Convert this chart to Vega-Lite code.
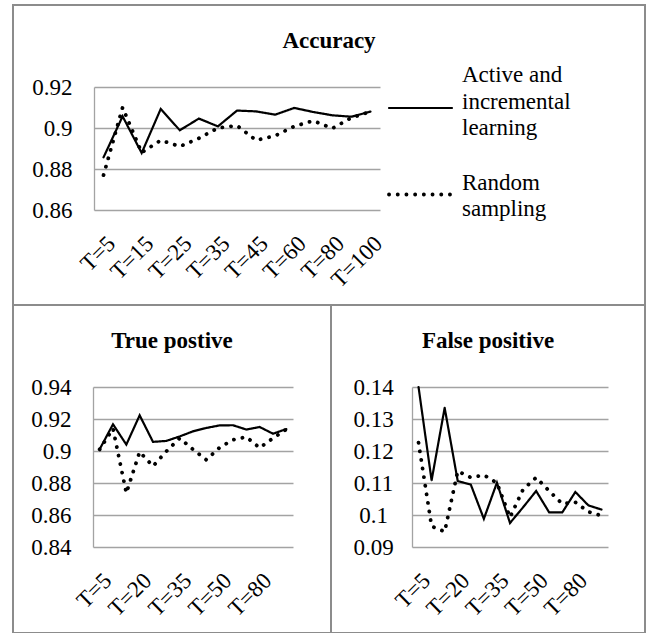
{
  "$schema": "https://vega.github.io/schema/vega-lite/v6.json",
  "padding": {"left": 12, "top": 4, "right": 4, "bottom": 1},
  "background": "white",
  "datasets": {
    "acc": [
      {"T": "T=5", "Series": "Active and incremental learning", "value": 0.8857},
      {"T": "T=10", "Series": "Active and incremental learning", "value": 0.9057},
      {"T": "T=15", "Series": "Active and incremental learning", "value": 0.8878},
      {"T": "T=20", "Series": "Active and incremental learning", "value": 0.9093},
      {"T": "T=25", "Series": "Active and incremental learning", "value": 0.8989},
      {"T": "T=30", "Series": "Active and incremental learning", "value": 0.9046},
      {"T": "T=35", "Series": "Active and incremental learning", "value": 0.9008},
      {"T": "T=40", "Series": "Active and incremental learning", "value": 0.9085},
      {"T": "T=45", "Series": "Active and incremental learning", "value": 0.9081},
      {"T": "T=50", "Series": "Active and incremental learning", "value": 0.9065},
      {"T": "T=60", "Series": "Active and incremental learning", "value": 0.9098},
      {"T": "T=70", "Series": "Active and incremental learning", "value": 0.9078},
      {"T": "T=80", "Series": "Active and incremental learning", "value": 0.9062},
      {"T": "T=90", "Series": "Active and incremental learning", "value": 0.9055},
      {"T": "T=100", "Series": "Active and incremental learning", "value": 0.908},
      {"T": "T=5", "Series": "Random sampling", "value": 0.877},
      {"T": "T=10", "Series": "Random sampling", "value": 0.910},
      {"T": "T=15", "Series": "Random sampling", "value": 0.888},
      {"T": "T=20", "Series": "Random sampling", "value": 0.894},
      {"T": "T=25", "Series": "Random sampling", "value": 0.891},
      {"T": "T=30", "Series": "Random sampling", "value": 0.895},
      {"T": "T=35", "Series": "Random sampling", "value": 0.900},
      {"T": "T=40", "Series": "Random sampling", "value": 0.9012},
      {"T": "T=45", "Series": "Random sampling", "value": 0.894},
      {"T": "T=50", "Series": "Random sampling", "value": 0.8962},
      {"T": "T=60", "Series": "Random sampling", "value": 0.9008},
      {"T": "T=70", "Series": "Random sampling", "value": 0.9035},
      {"T": "T=80", "Series": "Random sampling", "value": 0.8998},
      {"T": "T=90", "Series": "Random sampling", "value": 0.905},
      {"T": "T=100", "Series": "Random sampling", "value": 0.908}
    ],
    "tp": [
      {"T": "T=5", "Series": "Active and incremental learning", "value": 0.9011},
      {"T": "T=10", "Series": "Active and incremental learning", "value": 0.9167},
      {"T": "T=15", "Series": "Active and incremental learning", "value": 0.904},
      {"T": "T=20", "Series": "Active and incremental learning", "value": 0.9223},
      {"T": "T=25", "Series": "Active and incremental learning", "value": 0.9057},
      {"T": "T=30", "Series": "Active and incremental learning", "value": 0.9063},
      {"T": "T=35", "Series": "Active and incremental learning", "value": 0.9091},
      {"T": "T=40", "Series": "Active and incremental learning", "value": 0.9123},
      {"T": "T=45", "Series": "Active and incremental learning", "value": 0.9144},
      {"T": "T=50", "Series": "Active and incremental learning", "value": 0.916},
      {"T": "T=60", "Series": "Active and incremental learning", "value": 0.9161},
      {"T": "T=70", "Series": "Active and incremental learning", "value": 0.9134},
      {"T": "T=80", "Series": "Active and incremental learning", "value": 0.915},
      {"T": "T=90", "Series": "Active and incremental learning", "value": 0.9108},
      {"T": "T=100", "Series": "Active and incremental learning", "value": 0.9137},
      {"T": "T=5", "Series": "Random sampling", "value": 0.901},
      {"T": "T=10", "Series": "Random sampling", "value": 0.914},
      {"T": "T=15", "Series": "Random sampling", "value": 0.8737},
      {"T": "T=20", "Series": "Random sampling", "value": 0.8995},
      {"T": "T=25", "Series": "Random sampling", "value": 0.8905},
      {"T": "T=30", "Series": "Random sampling", "value": 0.8998},
      {"T": "T=35", "Series": "Random sampling", "value": 0.908},
      {"T": "T=40", "Series": "Random sampling", "value": 0.901},
      {"T": "T=45", "Series": "Random sampling", "value": 0.8945},
      {"T": "T=50", "Series": "Random sampling", "value": 0.9022},
      {"T": "T=60", "Series": "Random sampling", "value": 0.907},
      {"T": "T=70", "Series": "Random sampling", "value": 0.9088},
      {"T": "T=80", "Series": "Random sampling", "value": 0.902},
      {"T": "T=90", "Series": "Random sampling", "value": 0.908},
      {"T": "T=100", "Series": "Random sampling", "value": 0.9135}
    ],
    "fp": [
      {"T": "T=5", "Series": "Active and incremental learning", "value": 0.140},
      {"T": "T=10", "Series": "Active and incremental learning", "value": 0.1108},
      {"T": "T=15", "Series": "Active and incremental learning", "value": 0.1335},
      {"T": "T=20", "Series": "Active and incremental learning", "value": 0.1106},
      {"T": "T=25", "Series": "Active and incremental learning", "value": 0.1095},
      {"T": "T=30", "Series": "Active and incremental learning", "value": 0.0988},
      {"T": "T=35", "Series": "Active and incremental learning", "value": 0.1101},
      {"T": "T=40", "Series": "Active and incremental learning", "value": 0.0975},
      {"T": "T=45", "Series": "Active and incremental learning", "value": 0.1024},
      {"T": "T=50", "Series": "Active and incremental learning", "value": 0.1075},
      {"T": "T=60", "Series": "Active and incremental learning", "value": 0.1008},
      {"T": "T=70", "Series": "Active and incremental learning", "value": 0.1008},
      {"T": "T=80", "Series": "Active and incremental learning", "value": 0.1072},
      {"T": "T=90", "Series": "Active and incremental learning", "value": 0.103},
      {"T": "T=100", "Series": "Active and incremental learning", "value": 0.1017},
      {"T": "T=5", "Series": "Random sampling", "value": 0.1226},
      {"T": "T=10", "Series": "Random sampling", "value": 0.0965},
      {"T": "T=15", "Series": "Random sampling", "value": 0.0948},
      {"T": "T=20", "Series": "Random sampling", "value": 0.1137},
      {"T": "T=25", "Series": "Random sampling", "value": 0.1117},
      {"T": "T=30", "Series": "Random sampling", "value": 0.1125},
      {"T": "T=35", "Series": "Random sampling", "value": 0.110},
      {"T": "T=40", "Series": "Random sampling", "value": 0.0993},
      {"T": "T=45", "Series": "Random sampling", "value": 0.108},
      {"T": "T=50", "Series": "Random sampling", "value": 0.1117},
      {"T": "T=60", "Series": "Random sampling", "value": 0.1075},
      {"T": "T=70", "Series": "Random sampling", "value": 0.1035},
      {"T": "T=80", "Series": "Random sampling", "value": 0.104},
      {"T": "T=90", "Series": "Random sampling", "value": 0.101},
      {"T": "T=100", "Series": "Random sampling", "value": 0.0998}
    ]
  },
  "config": {
    "font": "Liberation Serif",
    "view": {"stroke": "#8c8c8c", "strokeWidth": 2},
    "axis": {
      "labelFont": "Liberation Serif",
      "labelFontSize": 23,
      "labelColor": "black",
      "ticks": false,
      "title": null,
      "gridColor": "#a3a3a3",
      "gridWidth": 1.3,
      "gridOpacity": 1,
      "domainColor": "#a3a3a3",
      "domainWidth": 1.3
    },
    "axisX": {"domain": false, "grid": false, "labelAngle": -45, "labelPadding": 22},
    "axisY": {"grid": true, "domain": true, "labelPadding": 22, "format": "~g"},
    "title": {
      "font": "Liberation Serif",
      "fontSize": 23,
      "fontWeight": "bold",
      "color": "black",
      "anchor": "middle",
      "frame": "group",
      "offset": -48,
      "baseline": "alphabetic"
    },
    "line": {"color": "black", "strokeCap": "round"}
  },
  "spacing": 0,
  "bounds": "flush",
  "vconcat": [
    {
      "width": 632,
      "height": 300,
      "title": {"text": "Accuracy"},
      "data": {"name": "acc"},
      "mark": {"type": "line"},
      "encoding": {
        "x": {
          "field": "T", "type": "ordinal", "sort": null,
          "scale": {"type": "point", "padding": 0.5, "range": [81, 367]},
          "axis": {"values": ["T=5", "T=15", "T=25", "T=35", "T=45", "T=60", "T=80", "T=100"], "offset": -95}
        },
        "y": {
          "field": "value", "type": "quantitative",
          "scale": {"domain": [0.86, 0.92], "range": [205, 82], "zero": false},
          "axis": {"values": [0.86, 0.88, 0.9, 0.92], "offset": -81}
        },
        "strokeDash": {
          "field": "Series", "type": "ordinal",
          "scale": {"domain": ["Active and incremental learning", "Random sampling"], "range": [[1, 0], [0.1, 8.6]]},
          "legend": {
            "orient": "none", "legendX": 374, "legendY": 70, "title": null,
            "symbolType": "stroke", "symbolSize": 3969, "symbolStrokeColor": "black",
            "labelFont": "Liberation Serif", "labelFontSize": 23, "labelColor": "black",
            "labelLimit": 0, "labelOffset": 8, "rowPadding": 21,
            "labelExpr": "datum.value == 'Random sampling' ? ['Random', ' sampling'] : ['Active and', 'incremental', 'learning']",
            "encode": {
              "symbols": {"update": {"strokeCap": {"value": "round"}}},
              "labels": {"update": {
                "lineHeight": {"value": 26.5},
                "dy": {"signal": "datum.value == 'Random sampling' ? -12 : -33"}
              }}
            }
          }
        },
        "strokeWidth": {
          "field": "Series", "type": "ordinal",
          "scale": {"domain": ["Active and incremental learning", "Random sampling"], "range": [2.2, 3.8]}
        }
      }
    },
    {
      "hconcat": [
        {
          "width": 318,
          "height": 328,
          "title": {"text": "True postive"},
          "data": {"name": "tp"},
          "mark": {"type": "line"},
          "encoding": {
            "x": {
              "field": "T", "type": "ordinal", "sort": null,
              "scale": {"type": "point", "padding": 0.5, "range": [80, 280]},
              "axis": {"values": ["T=5", "T=20", "T=35", "T=50", "T=80"], "offset": -86}
            },
            "y": {
              "field": "value", "type": "quantitative",
              "scale": {"domain": [0.84, 0.94], "range": [242, 82], "zero": false},
              "axis": {"values": [0.84, 0.86, 0.88, 0.9, 0.92, 0.94], "offset": -80}
            },
            "strokeDash": {
              "field": "Series", "type": "ordinal",
              "scale": {"domain": ["Active and incremental learning", "Random sampling"], "range": [[1, 0], [0.1, 8.6]]},
              "legend": null
            },
            "strokeWidth": {
              "field": "Series", "type": "ordinal",
              "scale": {"domain": ["Active and incremental learning", "Random sampling"], "range": [2.2, 3.8]},
              "legend": null
            }
          }
        },
        {
          "width": 314,
          "height": 328,
          "title": {"text": "False positive"},
          "data": {"name": "fp"},
          "mark": {"type": "line"},
          "encoding": {
            "x": {
              "field": "T", "type": "ordinal", "sort": null,
              "scale": {"type": "point", "padding": 0.5, "range": [81, 277]},
              "axis": {"values": ["T=5", "T=20", "T=35", "T=50", "T=80"], "offset": -86}
            },
            "y": {
              "field": "value", "type": "quantitative",
              "scale": {"domain": [0.09, 0.14], "range": [242, 82], "zero": false},
              "axis": {"values": [0.09, 0.1, 0.11, 0.12, 0.13, 0.14], "offset": -81, "labelAlign": "center", "labelPadding": 39}
            },
            "strokeDash": {
              "field": "Series", "type": "ordinal",
              "scale": {"domain": ["Active and incremental learning", "Random sampling"], "range": [[1, 0], [0.1, 8.6]]},
              "legend": null
            },
            "strokeWidth": {
              "field": "Series", "type": "ordinal",
              "scale": {"domain": ["Active and incremental learning", "Random sampling"], "range": [2.2, 3.8]},
              "legend": null
            }
          }
        }
      ],
      "spacing": 0,
      "bounds": "flush"
    }
  ]
}
